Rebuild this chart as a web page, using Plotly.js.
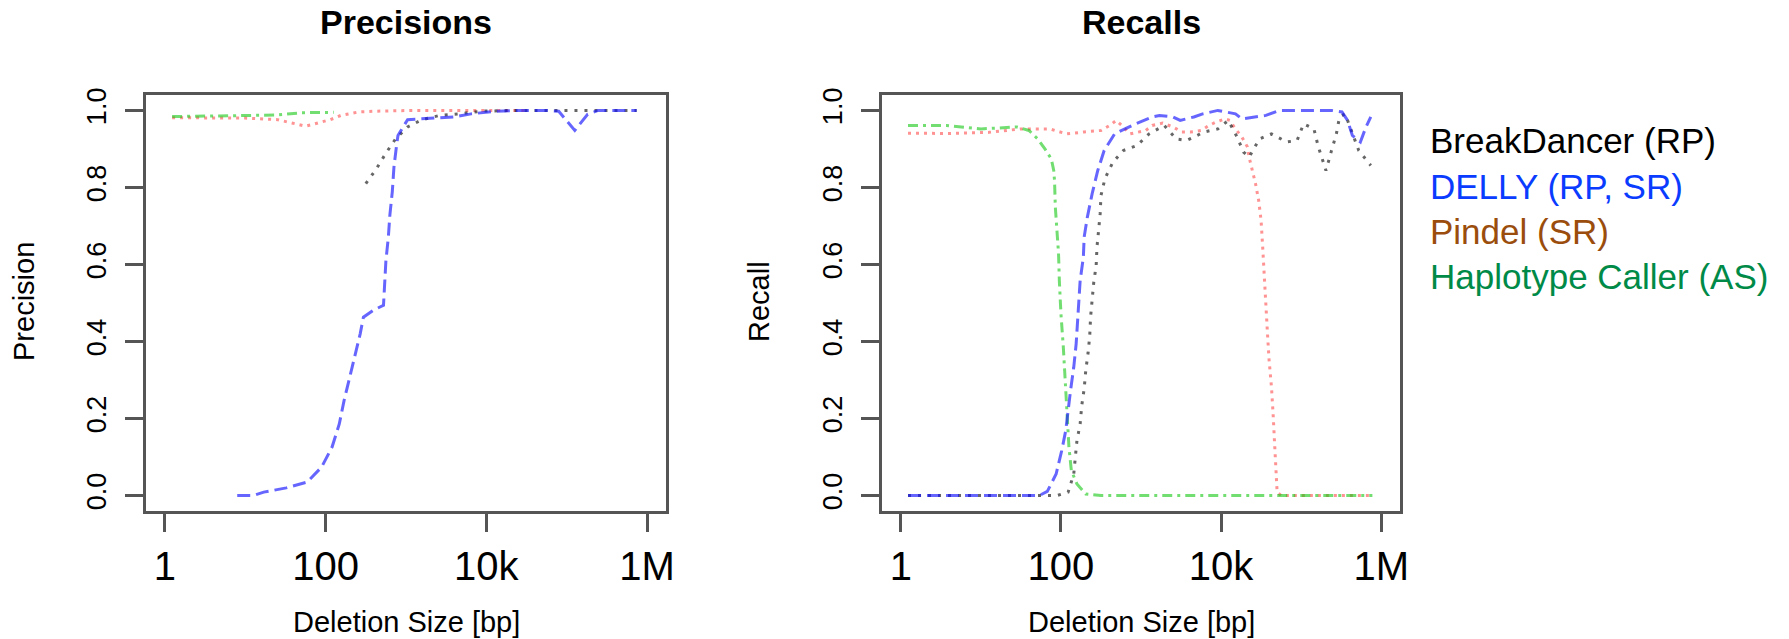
<!DOCTYPE html>
<html>
<head>
<meta charset="utf-8">
<script src="https://cdn.plot.ly/plotly-3.0.1.min.js"></script>
<style>html,body{margin:0;padding:0;background:#fff;}#chart{width:1789px;height:639px;}</style>
</head>
<body>
<div id="chart"></div>
<script>
// x values are log10 of deletion size (bp)
var tickVals = [0, 2, 4, 6];
var tickLabels = ["1", "100", "10k", "1M"];
var yTickVals = [0, 0.2, 0.4, 0.6, 0.8, 1.0];
var yTickLabels = ["0.0", "0.2", "0.4", "0.6", "0.8", "1.0"];

var seriesNames = ["BreakDancer (RP)", "DELLY (RP, SR)", "Pindel (SR)", "Haplotype Caller (AS)"];

// ---- Precision ----
var bdPrecX = [2.5, 2.63, 2.75, 2.87, 3.02, 3.2, 3.42, 3.66, 3.94, 4.38, 4.82, 5.0, 5.2, 5.6, 5.87];
var bdPrecY = [0.81, 0.848, 0.889, 0.926, 0.957, 0.976, 0.987, 0.991, 0.998, 1.0, 1.0, 1.0, 1.0, 1.0, 1.0];

var dellyPrecX = [0.9, 1.1, 1.23, 1.51, 1.77, 1.95, 2.08, 2.17, 2.23, 2.3, 2.37, 2.43, 2.47, 2.6, 2.72, 2.74, 2.75, 2.78, 2.8, 2.83, 2.85, 2.88, 2.9, 3.02, 3.2, 3.33, 3.59, 3.81, 4.12, 4.38, 4.73, 4.9, 5.1, 5.26, 5.39, 5.87];
var dellyPrecY = [0, 0, 0.009, 0.02, 0.035, 0.074, 0.126, 0.186, 0.247, 0.307, 0.368, 0.42, 0.463, 0.482, 0.494, 0.558, 0.61, 0.67, 0.73, 0.79, 0.853, 0.905, 0.935, 0.976, 0.978, 0.98, 0.983, 0.991, 0.998, 1.0, 1.0, 0.998, 0.948, 0.99, 1.0, 1.0];

var pindelPrecX = [0.09, 0.5, 1.0, 1.4, 1.62, 1.75, 1.95, 2.06, 2.19, 2.41, 2.63, 3.07, 3.5, 4.0, 4.47];
var pindelPrecY = [0.981, 0.981, 0.98, 0.976, 0.965, 0.959, 0.97, 0.976, 0.987, 0.996, 0.998, 1.0, 1.0, 1.0, 1.0];

var hcPrecX = [0.09, 0.5, 1.0, 1.4, 1.7, 2.1];
var hcPrecY = [0.984, 0.985, 0.986, 0.988, 0.994, 0.995];

// ---- Recall ----
var bdRecX = [0.09, 1.95, 2.09, 2.16, 2.18, 2.2, 2.24, 2.26, 2.29, 2.31, 2.34, 2.36, 2.37, 2.39, 2.41, 2.44, 2.45, 2.47, 2.49, 2.5, 2.55, 2.65, 2.78, 2.95, 3.1, 3.29, 3.44, 3.57, 3.79, 3.96, 4.09, 4.2, 4.28, 4.35, 4.48, 4.63, 4.82, 4.95, 5.03, 5.16, 5.21, 5.27, 5.31, 5.38, 5.44, 5.48, 5.55, 5.72, 5.87];
var bdRecY = [0, 0, 0.009, 0.056, 0.1, 0.143, 0.186, 0.234, 0.277, 0.325, 0.372, 0.416, 0.463, 0.506, 0.554, 0.597, 0.645, 0.688, 0.732, 0.779, 0.823, 0.866, 0.896, 0.909, 0.939, 0.961, 0.926, 0.922, 0.944, 0.952, 0.974, 0.931, 0.892, 0.879, 0.926, 0.939, 0.918, 0.922, 0.965, 0.952, 0.909, 0.87, 0.844, 0.896, 0.939, 0.983, 0.991, 0.896, 0.857];

var dellyRecX = [0.09, 1.73, 1.83, 1.94, 2.01, 2.06, 2.12, 2.16, 2.19, 2.22, 2.24, 2.28, 2.29, 2.33, 2.39, 2.46, 2.54, 2.67, 2.93, 3.14, 3.23, 3.4, 3.49, 3.66, 3.77, 3.96, 4.18, 4.26, 4.43, 4.56, 4.73, 5.08, 5.38, 5.51, 5.58, 5.64, 5.74, 5.81, 5.87];
var dellyRecY = [0, 0, 0.011, 0.056, 0.117, 0.169, 0.273, 0.333, 0.394, 0.506, 0.558, 0.619, 0.671, 0.723, 0.784, 0.844, 0.896, 0.939, 0.965, 0.983, 0.987, 0.983, 0.974, 0.983, 0.991, 1.0, 0.991, 0.978, 0.983, 0.987, 1.0, 1.0, 1.0, 0.996, 0.974, 0.935, 0.918, 0.957, 0.983];

var pindelRecX = [0.09, 0.6, 1.1, 1.5, 1.86, 2.07, 2.29, 2.5, 2.61, 2.69, 2.78, 2.86, 3.06, 3.14, 3.27, 3.4, 3.51, 3.62, 3.75, 3.85, 3.94, 4.05, 4.11, 4.18, 4.26, 4.33, 4.35, 4.39, 4.43, 4.47, 4.5, 4.52, 4.54, 4.56, 4.58, 4.6, 4.63, 4.65, 4.67, 4.69, 4.7, 4.75, 5.3, 5.89];
var pindelRecY = [0.941, 0.94, 0.943, 0.952, 0.952, 0.939, 0.944, 0.948, 0.961, 0.974, 0.957, 0.939, 0.948, 0.961, 0.967, 0.957, 0.944, 0.944, 0.948, 0.961, 0.97, 0.978, 0.974, 0.952, 0.931, 0.905, 0.879, 0.844, 0.81, 0.766, 0.714, 0.645, 0.558, 0.489, 0.42, 0.351, 0.281, 0.212, 0.143, 0.074, 0.009, 0, 0, 0];

var hcRecX = [0.09, 0.57, 1.0, 1.45, 1.6, 1.71, 1.8, 1.88, 1.91, 1.92, 1.93, 1.95, 1.97, 1.98, 2.0, 2.03, 2.05, 2.06, 2.08, 2.1, 2.13, 2.2, 2.31, 2.5, 3.5, 4.5, 5.89];
var hcRecY = [0.961, 0.961, 0.952, 0.957, 0.948, 0.926, 0.9, 0.874, 0.844, 0.818, 0.749, 0.688, 0.628, 0.558, 0.472, 0.385, 0.316, 0.255, 0.186, 0.126, 0.065, 0.03, 0.004, 0, 0, 0, 0];

var lineColors = ["rgba(0,0,0,0.6)", "rgba(20,20,255,0.65)", "rgba(255,40,40,0.5)", "rgba(20,200,20,0.6)"];
var lineDashes = ["3px,7px", "13px,6px", "3px,5px", "10px,5px,3px,5px"];
var legendColors = ["#000000", "#0a3cff", "#9a4d0c", "#008a48"];

var FONT = "Liberation Sans, Arial, Helvetica, sans-serif";

function tr(x, y, i, xa, ya) {
  return {x: x, y: y, type: "scatter", mode: "lines", name: seriesNames[i], xaxis: xa, yaxis: ya,
    showlegend: false, hoverinfo: "skip",
    line: {color: lineColors[i], width: 3, dash: lineDashes[i]}};
}

var data = [
  tr(pindelPrecX, pindelPrecY, 2, "x", "y"),
  tr(hcPrecX, hcPrecY, 3, "x", "y"),
  tr(bdPrecX, bdPrecY, 0, "x", "y"),
  tr(dellyPrecX, dellyPrecY, 1, "x", "y"),
  tr(pindelRecX, pindelRecY, 2, "x2", "y2"),
  tr(hcRecX, hcRecY, 3, "x2", "y2"),
  tr(bdRecX, bdRecY, 0, "x2", "y2"),
  tr(dellyRecX, dellyRecY, 1, "x2", "y2")
];

var W = 1789, H = 639;
function px(v) { return v / W; }
function py(v) { return (H - v) / H; }

function xax(dom, anchor) {
  return {domain: dom, anchor: anchor, range: [-0.235, 6.235], tickvals: tickVals, ticktext: tickLabels,
    ticks: "outside", ticklen: 18, tickwidth: 3, tickcolor: "#555",
    showline: true, mirror: true, linewidth: 3, linecolor: "#555",
    showgrid: false, zeroline: false, fixedrange: true,
    tickfont: {family: FONT, size: 40, color: "#000"}};
}
function yax(anchor) {
  return {domain: [py(511), py(95)], anchor: anchor, range: [-0.04, 1.04], tickvals: yTickVals, ticktext: yTickLabels,
    ticks: "outside", ticklen: 18, tickwidth: 3, tickcolor: "#555", tickangle: -90,
    showline: true, mirror: true, linewidth: 3, linecolor: "#555",
    showgrid: false, zeroline: false, fixedrange: true, ticklabelstandoff: 8,
    tickfont: {family: FONT, size: 27, color: "#000"}};
}

var ann = [];
function txt(t, x, y, size, color, opts) {
  var a = {text: t, x: px(x), y: py(y), xref: "paper", yref: "paper", showarrow: false,
    xanchor: "center", yanchor: "middle", font: {family: FONT, size: size, color: color}};
  for (var k in opts) a[k] = opts[k];
  ann.push(a);
}
txt("<b>Precisions</b>", 406, 22, 34, "#000", {});
txt("<b>Recalls</b>", 1141, 22, 34, "#000", {});
txt("Deletion Size [bp]", 406, 622, 29, "#000", {});
txt("Deletion Size [bp]", 1141, 622, 29, "#000", {});
txt("Precision", 24, 302, 29, "#000", {textangle: -90});
txt("Recall", 759, 302, 29, "#000", {textangle: -90});
var legendY = [141, 186, 231, 276];
for (var i = 0; i < seriesNames.length; i++) {
  txt(seriesNames[i], 1428, legendY[i], 35, legendColors[i], {xanchor: "left"});
}

var layout = {
  width: W, height: H,
  margin: {l: 0, r: 0, t: 0, b: 0},
  paper_bgcolor: "#fff", plot_bgcolor: "#fff",
  showlegend: false,
  xaxis: xax([px(146), px(666)], "y"),
  yaxis: yax("x"),
  xaxis2: xax([px(882), px(1400)], "y2"),
  yaxis2: yax("x2"),
  annotations: ann
};

Plotly.newPlot("chart", data, layout, {displayModeBar: false, staticPlot: true});
</script>
</body>
</html>
